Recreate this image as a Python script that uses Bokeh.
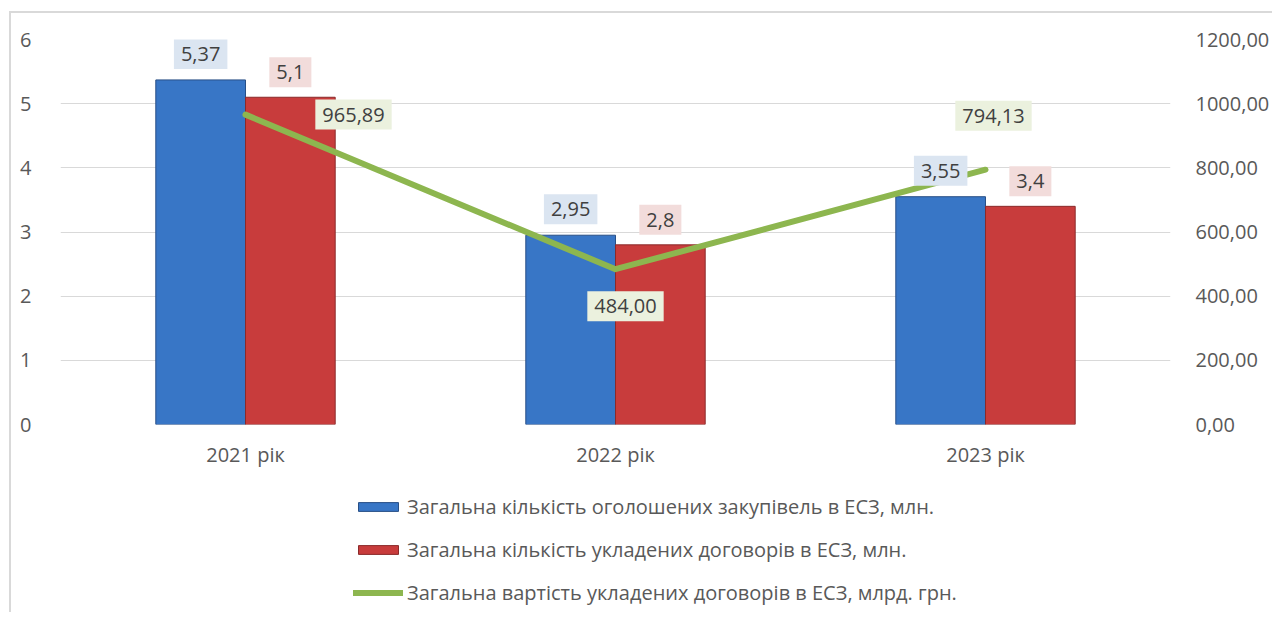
from bokeh.plotting import figure
from bokeh.layouts import column
from bokeh.models import (FactorRange, Range1d, LinearAxis, FixedTicker, Legend, LegendItem,
                          ColumnDataSource)
from bokeh.transform import dodge
from bokeh.core.properties import value
from bokeh.embed import file_html
from bokeh.resources import INLINE

# ---- data ----
years = ["2021 рік", "2022 рік", "2023 рік"]
announced = [5.37, 2.95, 3.55]          # млн
contracts = [5.1, 2.8, 3.4]             # млн
contract_value = [965.89, 484.00, 794.13]  # млрд. грн
left_ticks = [0, 1, 2, 3, 4, 5, 6]
right_ticks = [0, 200, 400, 600, 800, 1000, 1200]
names = [
    "Загальна кількість оголошених закупівель в ЕСЗ, млн.",
    "Загальна кількість укладених договорів в ЕСЗ, млн.",
    "Загальна вартість укладених договорів в ЕСЗ, млрд. грн.",
]

def fmt(v, nd=None):
    if nd is None:
        s = ("%g" % v)
    else:
        s = ("%." + str(nd) + "f") % v
    return s.replace(".", ",")

FONT = "Open Sans"
TXT = "#404040"
TICK = "#595959"
BLUE = "#3876c6"
BLUE_D = "#284f86"
RED = "#c83c3c"
RED_D = "#8a2a2a"
GREEN = "#8db64f"
BORDER = "#d9d9d9"

src = ColumnDataSource(dict(
    years=years, announced=announced, contracts=contracts, value=contract_value,
    lab_a=[fmt(v) for v in announced], lab_c=[fmt(v) for v in contracts],
    lab_v=[fmt(v, 2) for v in contract_value],
    vx_off=[108, 10, 8], vy_off=[0, 37, -54],
))

W, H1, H2 = 1272, 470, 142
FL, FR = 60, 1174
p = figure(x_range=FactorRange(*years, range_padding=0), y_range=Range1d(0, 6),
           width=W, height=H1, output_backend="svg", toolbar_location=None,
           min_border_left=FL, min_border_right=W - FR, min_border_top=39,
           min_border_bottom=H1 - 425)
p.extra_y_ranges = {"right": Range1d(0, 1200)}
p.outline_line_color = None
p.border_fill_alpha = 0
p.background_fill_color = None
p.styles = {"background": f"linear-gradient({BORDER},{BORDER}) 9px 11px / 2px 100% no-repeat, "
                          f"linear-gradient({BORDER},{BORDER}) 9px 11px / 100% 2px no-repeat"}

bw = 0.2424
bar_a = dict(x=dodge("years", -bw / 2, range=p.x_range), top="announced", width=bw, source=src,
             fill_color=BLUE, line_color=BLUE_D, line_width=1)
bar_c = dict(x=dodge("years", bw / 2, range=p.x_range), top="contracts", width=bw, source=src,
             fill_color=RED, line_color=RED_D, line_width=1)
line_v = dict(x="years", y="value", source=src, line_color=GREEN, line_width=6,
              line_cap="round", line_join="round")
p.vbar(**bar_a)
p.vbar(**bar_c)
p.line(y_range_name="right", **line_v)

common = dict(source=src, text_font=value(FONT), text_font_size="20px", text_color=TXT,
              text_align="center", text_baseline="middle",
              padding=dict(left=7, right=7, top=8, bottom=8))
p.text(x=dodge("years", -bw / 2, range=p.x_range), y="announced", text="lab_a", y_offset=-26,
       background_fill_color="#dbe5f1", **common)
p.text(x=dodge("years", bw / 2, range=p.x_range), y="contracts", text="lab_c", y_offset=-25,
       background_fill_color="#f2dcdb", **common)
p.text(x="years", y="value", text="lab_v", x_offset="vx_off", y_offset="vy_off",
       y_range_name="right", background_fill_color="#ebf1de", **common)

# axes
p.yaxis.ticker = FixedTicker(ticks=left_ticks)
ax_r = LinearAxis(y_range_name="right", ticker=FixedTicker(ticks=right_ticks),
                  major_label_overrides={t: fmt(t, 2) for t in right_ticks})
p.add_layout(ax_r, "right")
for ax in (p.yaxis[0], ax_r, p.xaxis[0]):
    ax.axis_line_color = None
    ax.major_tick_line_color = None
    ax.minor_tick_line_color = None
    ax.major_label_text_font = FONT
    ax.major_label_text_font_size = "20px"
    ax.major_label_text_color = TICK
p.yaxis[0].major_label_standoff = 23
ax_r.major_label_standoff = 19
p.xaxis[0].major_label_standoff = 10
p.xgrid.grid_line_color = None
p.ygrid.grid_line_color = BORDER
p.ygrid.ticker = FixedTicker(ticks=left_ticks)

# ---- legend panel (second figure below the chart; its series lie outside its view) ----
q = figure(x_range=FactorRange(*years), y_range=Range1d(5000, 5001), width=W, height=H2,
           output_backend="svg", toolbar_location=None,
           min_border_left=0, min_border_right=0, min_border_top=0, min_border_bottom=0)
q.axis.visible = False
q.grid.visible = False
q.outline_line_color = None
q.border_fill_alpha = 0
q.background_fill_color = None
q.styles = {"background": f"linear-gradient({BORDER},{BORDER}) 9px 0px / 2px 100% no-repeat"}
bar_a["x"] = dodge("years", -bw / 2, range=q.x_range)
bar_c["x"] = dodge("years", bw / 2, range=q.x_range)
g_a = q.vbar(**bar_a)
g_c = q.vbar(**bar_c)
g_v = q.line(**line_v)

legend = Legend(items=[LegendItem(label=names[0], renderers=[g_a]),
                       LegendItem(label=names[1], renderers=[g_c]),
                       LegendItem(label=names[2], renderers=[g_v])],
                location=(353 - FL, 6), orientation="vertical",
                glyph_width=50, glyph_height=11, label_standoff=4,
                label_height=27, spacing=16, padding=0, margin=0,
                border_line_color=None, background_fill_alpha=0,
                label_text_font=FONT, label_text_font_size="20px", label_text_color=TICK)
q.add_layout(legend, "center")

layout = column(p, q, spacing=0)
open("out.html", "w").write(file_html(layout, INLINE))
